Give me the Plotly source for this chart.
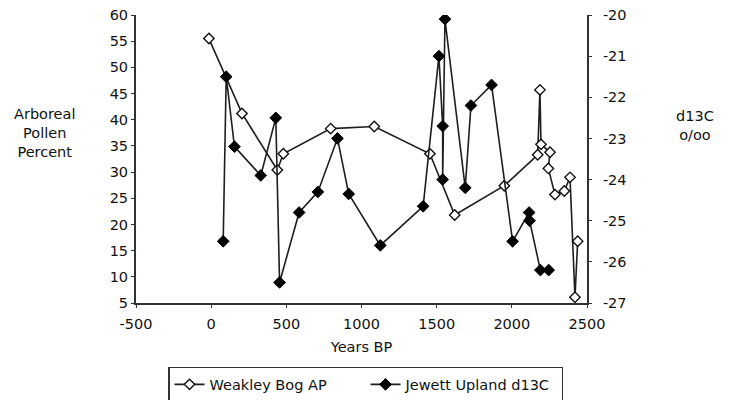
import plotly.graph_objects as go

# Weakley Bog arboreal pollen percent, in sample sequence
weakley_years = [-15, 205, 440, 480, 795, 1085, 1455, 1620, 1950, 2172, 2187,
                 2194, 2254, 2243, 2287, 2349, 2387, 2420, 2438]
weakley_ap = [55.5, 41.2, 30.4, 33.5, 38.3, 38.7, 33.5, 21.8, 27.4, 33.3, 45.7,
              35.3, 33.8, 30.7, 25.7, 26.4, 29.0, 6.1, 16.8]

# Jewett Upland d13C (o/oo), in sample sequence
jewett_years = [80, 100, 155, 330, 430, 455, 585, 710, 840, 915, 1125, 1410,
                1515, 1540, 1540, 1555, 1690, 1728, 1865, 2005, 2115, 2118, 2190, 2245]
jewett_d13c = [-25.5, -21.5, -23.2, -23.9, -22.5, -26.5, -24.8, -24.3, -23.0,
               -24.35, -25.6, -24.65, -21.0, -22.7, -24.0, -20.1, -24.2, -22.2,
               -21.7, -25.5, -24.8, -25.0, -26.2, -26.2]

# Axis ticks
x_ticks = [-500, 0, 500, 1000, 1500, 2000, 2500]
x_tick_labels = ["-500", "0", "500", "1000", "1500", "2000", "2500"]
ap_ticks = [5, 10, 15, 20, 25, 30, 35, 40, 45, 50, 55, 60]
d13c_ticks = [-27, -26, -25, -24, -23, -22, -21, -20]
d13c_tick_labels = ["-27", "-26", "-25", "-24", "-23", "-22", "-21", "-20"]

FONT = "DejaVu Sans"
INK = "#111111"
AXIS = "#333333"

fig = go.Figure()

fig.add_trace(go.Scatter(
    x=weakley_years, y=weakley_ap, name="Weakley Bog AP",
    mode="lines+markers",
    line=dict(color="#1e1e1e", width=1.6),
    marker=dict(symbol="diamond", size=8, color="white",
                line=dict(color="#111111", width=1.4)),
    yaxis="y",
))

fig.add_trace(go.Scatter(
    x=jewett_years, y=jewett_d13c, name="Jewett Upland d13C",
    mode="lines+markers",
    line=dict(color="#1e1e1e", width=1.6),
    marker=dict(symbol="diamond", size=9, color="#000000",
                line=dict(color="#000000", width=1)),
    yaxis="y2",
))

axis_common = dict(showgrid=False, zeroline=False, showline=True,
                   linecolor=AXIS, linewidth=2, ticks="outside", ticklen=3,
                   tickwidth=1.2, tickcolor=AXIS,
                   tickfont=dict(family=FONT, size=14.5, color=INK))
inner_ticks = dict(showgrid=False, zeroline=False, showline=False,
                   ticks="inside", ticklen=3, tickwidth=1.2, tickcolor=AXIS,
                   showticklabels=False)

fig.update_layout(
    width=734, height=400,
    margin=dict(l=136, r=147, t=15, b=97, autoexpand=False),
    paper_bgcolor="white", plot_bgcolor="white",
    font=dict(family=FONT, size=14.5, color=INK),
    xaxis=dict(range=[-500, 2500], tickvals=x_ticks, ticktext=x_tick_labels,
               ticklabelstandoff=4,
               title=dict(text="Years BP", standoff=10,
                          font=dict(family=FONT, size=14.5, color=INK)),
               **axis_common),
    yaxis=dict(range=[5, 60], tickvals=ap_ticks, **axis_common),
    yaxis2=dict(range=[-27, -20], tickvals=d13c_ticks, ticktext=d13c_tick_labels,
                overlaying="y", side="right", ticklabelstandoff=8, **axis_common),
    xaxis2=dict(range=[-500, 2500], tickvals=x_ticks, overlaying="x",
                anchor="y", side="bottom", **inner_ticks),
    yaxis3=dict(range=[5, 60], tickvals=ap_ticks, overlaying="y",
                anchor="x", side="left", **inner_ticks),
    yaxis4=dict(range=[-27, -20], tickvals=d13c_ticks, overlaying="y",
                anchor="x", side="right", **inner_ticks),
    showlegend=True,
    legend=dict(orientation="h", x=0.071, y=-0.222, xanchor="left", yanchor="top",
                bordercolor=AXIS, borderwidth=1.5, bgcolor="white",
                font=dict(family=FONT, size=14.5, color=INK),
                entrywidth=151, entrywidthmode="pixels"),
    annotations=[
        dict(text="Arboreal<br>Pollen<br>Percent", xref="paper", yref="paper",
             x=-0.202, y=0.59, xanchor="center", yanchor="middle",
             showarrow=False, font=dict(family=FONT, size=14.5, color=INK)),
        dict(text="d13C<br>o/oo", xref="paper", yref="paper",
             x=1.24, y=0.615, xanchor="center", yanchor="middle",
             showarrow=False, font=dict(family=FONT, size=14.5, color=INK)),
    ],
)

fig.write_html("out.html")
